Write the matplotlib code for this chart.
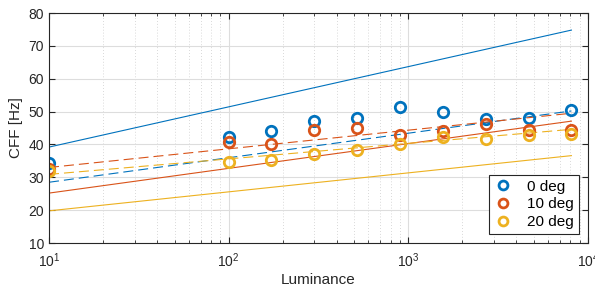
import numpy as np
import matplotlib.pyplot as plt
from matplotlib.ticker import LogLocator, NullFormatter

plt.rcParams['font.family'] = ['Liberation Sans', 'DejaVu Sans']

## ------------------- data
lum = [10, 100, 173, 300, 520, 900, 1560, 2700, 4680, 8100]
cff_0 = [34.4, 42.4, 44.0, 47.2, 48.0, 51.4, 49.8, 47.6, 48.0, 50.6]
cff_10 = [32.5, 40.9, 40.1, 44.4, 45.1, 42.9, 44.1, 46.2, 44.4, 44.4]
cff_20 = [31.8, 34.8, 35.3, 37.1, 38.3, 40.0, 42.2, 41.8, 43.0, 43.3]

line_x = [10, 8100]
solid_0 = [39.2, 74.8]
solid_10 = [25.2, 47.1]
solid_20 = [19.8, 36.6]
dash_0 = [28.5, 50.2]
dash_10 = [33.0, 49.5]
dash_20 = [30.9, 44.6]

labels = ['0 deg', '10 deg', '20 deg']
colors = ['#0072BD', '#D95319', '#EDB120']

## ------------------- plot
fig = plt.figure(figsize=(5.95, 2.89), dpi=100)
ax = fig.add_axes([0.0824, 0.159, 0.9056, 0.796])

for y, c in zip([solid_0, solid_10, solid_20], colors):
    ax.plot(line_x, y, '-', color=c, lw=0.8)
for y, c in zip([dash_0, dash_10, dash_20], colors):
    ax.plot(line_x, y, '--', color=c, lw=0.8, dashes=(9, 4.5))
for y, c, lab in zip([cff_0, cff_10, cff_20], colors, labels):
    ax.plot(lum, y, 'o', mfc='none', mec=c, mew=2, ms=7.5, label=lab)

ax.set_xscale('log')
ax.set_xlim(10, 1e4)
ax.set_ylim(10, 80)
ax.set_yticks(range(10, 81, 10))
ax.xaxis.set_minor_locator(LogLocator(base=10, subs=np.arange(2, 10)))
ax.xaxis.set_minor_formatter(NullFormatter())

ax.grid(which='major', color='#dddddd', lw=0.8, ls='-')
ax.grid(which='minor', axis='x', color='#cccccc', lw=0.6, ls=(0, (1, 2.5)))
ax.set_axisbelow(True)

ax.tick_params(which='both', direction='in', top=True, right=True, labelsize=10, colors='#262626')
ax.tick_params(which='major', length=4)
ax.tick_params(which='minor', length=2.5)
ax.tick_params(axis='x', which='major', pad=6)
for s in ax.spines.values():
    s.set_color('#262626')
    s.set_linewidth(0.8)

ax.set_xlabel('Luminance', fontsize=11, color='#262626', labelpad=2)
ax.set_ylabel('CFF [Hz]', fontsize=11, color='#262626', labelpad=4)

leg = ax.legend(loc='lower right', fontsize=11, frameon=True, fancybox=False,
                edgecolor='#262626', framealpha=1, borderaxespad=0.6,
                handlelength=1.2, handletextpad=1.0, borderpad=0.3, labelspacing=0.25,
                markerscale=0.85)
leg.get_frame().set_linewidth(0.8)

plt.savefig('out.png', dpi=100)
